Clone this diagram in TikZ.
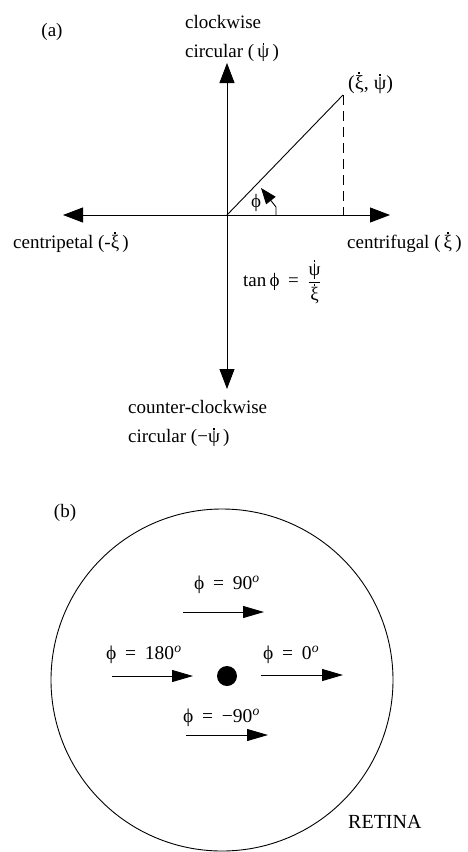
\documentclass[tikz,border=0pt]{standalone}
\usepackage{fontspec}
\setmainfont{Liberation Serif}
\usetikzlibrary{arrows.meta}
\newcommand\dt[1]{\setbox0\hbox{#1}\hbox{\rlap{\hbox to\wd0{\hss\raisebox{\dimexpr\ht0+0.07em\relax}{\rule{1.8pt}{1.8pt}}\hss}}\box0}}
\newcommand\sep{\hspace{0.45em}}
\newcommand\dg{\textsuperscript{\itshape o}}
\tikzset{
  lbl/.style={inner sep=0pt, font=\fontsize{19}{21}\selectfont},
  blbl/.style={inner sep=0pt, font=\fontsize{19.5}{21}\selectfont},
  axis/.style={line width=0.9pt, {Triangle[length=20pt,width=15pt]}-{Triangle[length=20pt,width=15pt]}},
  mv/.style={line width=0.9pt, -{Triangle[length=21pt,width=12pt]}},
  thin/.style={line width=0.9pt}
}
\begin{document}
\begin{tikzpicture}[x=1pt,y=-1pt]
\useasboundingbox (0,0) rectangle (468,852);
\clip (0,0) rectangle (468,852);
% (a)
\coordinate (O) at (227,215);
\coordinate (U) at (227,63);
\coordinate (D) at (227,389);
\coordinate (L) at (63,215);
\coordinate (R) at (390,215);
\coordinate (P) at (343,95);
\coordinate (Pf) at (343,215);
\coordinate (A0) at (276,215);
\coordinate (A1) at (276,207);
\coordinate (A2) at (261,188);
\draw[axis] (L) -- (R);
\draw[axis] (U) -- (D);
\draw[thin] (O) -- (P);
\draw[thin, dash pattern=on 10pt off 6pt] (P) -- (Pf);
\draw[line width=0.9pt, -{Triangle[length=16pt,width=12pt]}] (A0) -- (A1) -- (A2);
\node[lbl] (phi) at (256,203) {ϕ};
\node[lbl] (la) at (52,32) {(a)};
\node[lbl, anchor=west] (cw1) at (185,22) {clockwise};
\node[lbl, anchor=west] (cw2) at (185,52) {circular (\,\dt{ψ}\,)};
\node[lbl, anchor=west, font=\fontsize{20}{22}\selectfont] (pt) at (348,83) {(\dt{ξ}, \dt{ψ})};
\node[lbl, anchor=west] (cp) at (13,242) {centripetal (-\dt{ξ}\,)};
\node[lbl, anchor=west] (cf) at (347,242) {centrifugal (\,\dt{ξ}\,)};
\node[lbl, anchor=west] (tan) at (243,282) {tan\,ϕ\sep=\sep$\displaystyle\frac{\mbox{\dt{ψ}}}{\mbox{\dt{ξ}}}$};
\node[lbl, anchor=west] (ccw1) at (128,407) {counter-clockwise};
\node[lbl, anchor=west] (ccw2) at (128,437) {circular (−\dt{ψ}\,)};
% (b)
\node[lbl] (lb) at (65,513) {(b)};
\node[draw, thin, circle, minimum size=342pt, inner sep=0pt] (ret) at (222,680) {};
\node[circle, fill=black, minimum size=20pt, inner sep=0pt] (fov) at (227,676) {};
\coordinate (a90s) at (183,612); \coordinate (a90e) at (264,612);
\coordinate (a180s) at (112,676); \coordinate (a180e) at (193,676);
\coordinate (a0s) at (261,675); \coordinate (a0e) at (343,675);
\coordinate (am90s) at (186,735); \coordinate (am90e) at (268,735);
\draw[mv] (a90s) -- (a90e);
\draw[mv] (a180s) -- (a180e);
\draw[mv] (a0s) -- (a0e);
\draw[mv] (am90s) -- (am90e);
\node[blbl] (l90) at (227,585) {ϕ\sep=\sep90\dg};
\node[blbl, anchor=west] (l180) at (106,655) {ϕ\sep=\sep180\dg};
\node[blbl, anchor=west] (l0) at (263,655) {ϕ\sep=\sep0\dg};
\node[blbl, anchor=west] (lm90) at (183,718) {ϕ\sep=\sep−90\dg};
\node[inner sep=0pt, anchor=west, font=\fontsize{20}{22}\selectfont] (rt) at (348,822) {RETINA};
\end{tikzpicture}
\end{document}
